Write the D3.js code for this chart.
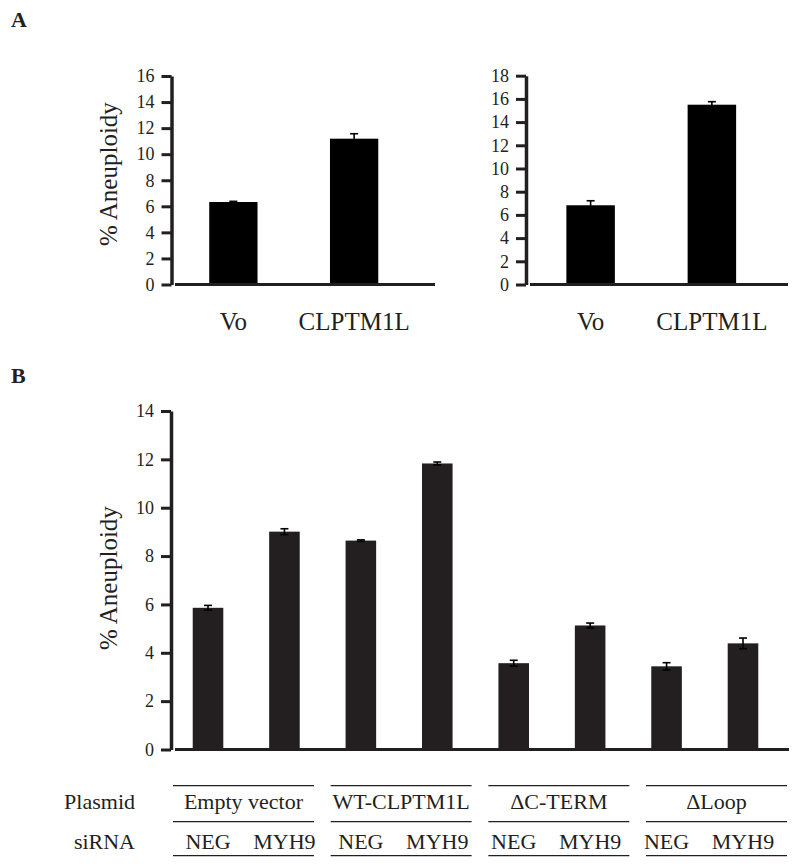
<!DOCTYPE html>
<html>
<head>
<meta charset="utf-8">
<script src="https://cdn.jsdelivr.net/npm/d3@7"></script>
<style>
  html, body { margin: 0; padding: 0; background: #fff; }
  svg { display: block; }
  text { font-family: "Liberation Serif", "Times New Roman", serif; fill: #231f20; }
</style>
</head>
<body>
<svg id="chart" width="800" height="867"></svg>
<script>
// ---------------- DATA ----------------
const panelACategories = ["Vo", "CLPTM1L"];
const panelA1Values = [6.33, 11.19];
const panelA1Errors = [0.05, 0.38];
const panelA1Ticks = [0, 2, 4, 6, 8, 10, 12, 14, 16];

const panelA2Values = [6.83, 15.5];
const panelA2Errors = [0.39, 0.26];
const panelA2Ticks = [0, 2, 4, 6, 8, 10, 12, 14, 16, 18];

const panelBPlasmids = ["Empty vector", "WT-CLPTM1L", "\u0394C-TERM", "\u0394Loop"];
const panelBsiRNA = ["NEG", "MYH9"];
const panelBValues = [5.86, 9.01, 8.64, 11.83, 3.57, 5.13, 3.44, 4.39];
const panelBErrors = [0.10, 0.12, 0.03, 0.06, 0.12, 0.10, 0.15, 0.22];
const panelBTicks = [0, 2, 4, 6, 8, 10, 12, 14];

const yAxisTitle = "% Aneuploidy";

// ---------------- DRAW ----------------
const svg = d3.select("#chart");

function drawPanel(opts) {
  const { cats, values, errors, ticks, yMax, yRange, xRange, axisX, baseX, barColor, showTitle, titleY, catLabelY } = opts;
  const g = svg.append("g");
  const x = d3.scaleBand().domain(cats.map((c, i) => i)).range(xRange).paddingInner(0.6).paddingOuter(0.3);
  const y = d3.scaleLinear().domain([0, yMax]).range(yRange);

  // bars
  g.selectAll("rect.bar").data(values).join("rect")
    .attr("class", "bar")
    .attr("x", (d, i) => x(i))
    .attr("width", x.bandwidth())
    .attr("y", d => y(d))
    .attr("height", d => y(0) - y(d))
    .attr("fill", barColor);

  // error bars
  const eb = g.selectAll("g.err").data(values).join("g").attr("class", "err");
  eb.append("line")
    .attr("x1", (d, i) => x(i) + x.bandwidth() / 2)
    .attr("x2", (d, i) => x(i) + x.bandwidth() / 2)
    .attr("y1", (d, i) => y(d - errors[i]))
    .attr("y2", (d, i) => y(d + errors[i]))
    .attr("stroke", "#000").attr("stroke-width", 1.6);
  [1, -1].forEach(s => {
    eb.append("line")
      .attr("x1", (d, i) => x(i) + x.bandwidth() / 2 - 4)
      .attr("x2", (d, i) => x(i) + x.bandwidth() / 2 + 4)
      .attr("y1", (d, i) => y(d + s * errors[i]))
      .attr("y2", (d, i) => y(d + s * errors[i]))
      .attr("stroke", "#000").attr("stroke-width", 1.6);
  });

  // baseline
  g.append("line")
    .attr("x1", baseX[0]).attr("x2", baseX[1])
    .attr("y1", y(0)).attr("y2", y(0))
    .attr("stroke", "#231f20").attr("stroke-width", 3);

  // y axis
  const axis = d3.axisLeft(y).tickValues(ticks).tickSize(10).tickSizeOuter(0).tickPadding(7).tickFormat(d3.format("d"));
  const ag = g.append("g").attr("transform", `translate(${axisX},0)`).call(axis);
  ag.select(".domain").attr("stroke", "#231f20").attr("stroke-width", 3.5);
  ag.selectAll(".tick line").attr("stroke", "#231f20").attr("stroke-width", 3);
  ag.selectAll(".tick text").attr("fill", "#231f20")
    .style("font-family", '"Liberation Serif", "Times New Roman", serif')
    .style("font-size", "18px");

  if (showTitle) {
    g.append("text")
      .attr("transform", `translate(117,${titleY}) rotate(-90)`)
      .attr("text-anchor", "middle")
      .style("font-size", "25px")
      .text(yAxisTitle);
  }
  if (catLabelY) {
    g.selectAll("text.cat").data(cats).join("text")
      .attr("class", "cat")
      .attr("x", (d, i) => x(i) + x.bandwidth() / 2)
      .attr("y", catLabelY)
      .attr("text-anchor", "middle")
      .style("font-size", "25px")
      .text(d => d);
  }
  return { x, y };
}

// Panel labels
svg.append("text").attr("x", 11).attr("y", 27).style("font-size", "22px").style("font-weight", "bold").text("A");
svg.append("text").attr("x", 11).attr("y", 383).style("font-size", "22px").style("font-weight", "bold").text("B");

// Panel A left
drawPanel({
  cats: panelACategories, values: panelA1Values, errors: panelA1Errors, ticks: panelA1Ticks,
  yMax: 16, yRange: [284.5, 76], xRange: [173, 414.5], axisX: 171.5, baseX: [175, 435],
  barColor: "#000", showTitle: true, titleY: 174, catLabelY: 330
});
// Panel A right
drawPanel({
  cats: panelACategories, values: panelA2Values, errors: panelA2Errors, ticks: panelA2Ticks,
  yMax: 18, yRange: [284.5, 75.7], xRange: [530, 772.5], axisX: 526, baseX: [530, 788],
  barColor: "#000", showTitle: false, catLabelY: 330
});
// Panel B
const bCats = d3.range(panelBValues.length);
const pb = drawPanel({
  cats: bCats, values: panelBValues, errors: panelBErrors, ticks: panelBTicks,
  yMax: 14, yRange: [749.5, 411], xRange: [169.8, 781.2], axisX: 171, baseX: [175, 789],
  barColor: "#231f20", showTitle: true, titleY: 578, catLabelY: null
});

// Table below panel B
const tg = svg.append("g");
const groupScale = d3.scaleBand().domain(panelBPlasmids).range([173, 787]).paddingInner(0.106).paddingOuter(0);
const lineYs = [785.7, 821.7, 855.7];
panelBPlasmids.forEach(p => {
  lineYs.forEach(ly => {
    tg.append("line")
      .attr("x1", groupScale(p)).attr("x2", groupScale(p) + groupScale.bandwidth())
      .attr("y1", ly).attr("y2", ly)
      .attr("stroke", "#231f20").attr("stroke-width", 1.3);
  });
  tg.append("text")
    .attr("x", groupScale(p) + groupScale.bandwidth() / 2)
    .attr("y", 809)
    .attr("text-anchor", "middle")
    .style("font-size", "22px")
    .text(p);
});
tg.append("text").attr("x", 135).attr("y", 809).attr("text-anchor", "end").style("font-size", "22px").text("Plasmid");
tg.append("text").attr("x", 135).attr("y", 848.5).attr("text-anchor", "end").style("font-size", "22px").text("siRNA");
bCats.forEach(i => {
  tg.append("text")
    .attr("x", pb.x(i) + pb.x.bandwidth() / 2)
    .attr("y", 848.5)
    .attr("text-anchor", "middle")
    .style("font-size", "22px")
    .text(panelBsiRNA[i % 2]);
});
</script>
</body>
</html>
